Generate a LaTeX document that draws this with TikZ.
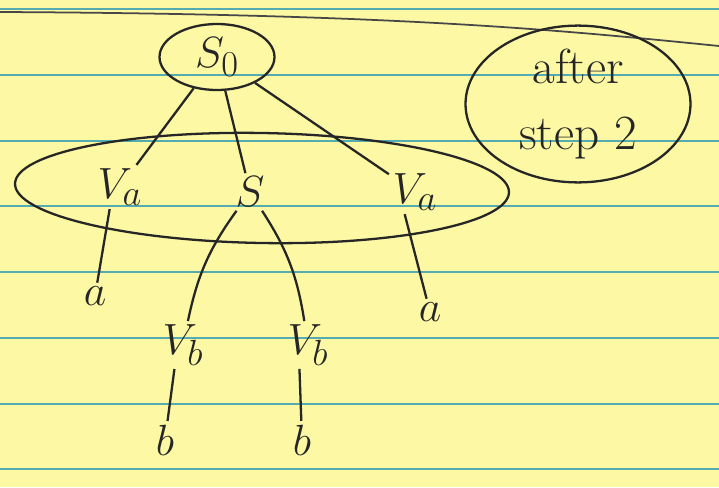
\documentclass[tikz,border=0pt]{standalone}
\usetikzlibrary{shapes.geometric}
\definecolor{paper}{RGB}{252,248,164}
\definecolor{rulecol}{RGB}{84,172,176}
\definecolor{ink}{RGB}{38,38,38}
\begin{document}
\begin{tikzpicture}[
  x=0.02cm, y=-0.02cm,
  every node/.style={text=ink, inner sep=2pt, font=\fontsize{32}{32}\selectfont},
  edge/.style={draw=ink, line width=1.3pt},
  ring/.style={draw=ink, line width=1.3pt, ellipse, inner sep=0pt}
]
\fill[paper] (0,0) rectangle (719,487);
\useasboundingbox (0,0) rectangle (719,487);
\foreach \y in {9,75,141,206,272,338,404,469}
  \draw[rulecol, line width=1.4pt] (0,\y) -- (719,\y);
\draw[ink!85, line width=1pt] (0,12) .. controls (400,14) and (560,30) .. (719,46);

\node[ring, minimum width=2.3cm, minimum height=1.32cm] (s0) at (217,57) {$S_0$};
\node[ring, align=center, minimum width=4.5cm, minimum height=2.95cm,
  font=\fontsize{28}{38}\selectfont] (note) at (578,104) {after\\ step 2};

\node (va1) at (120,187) {$V_a$};
\node (s) at (250,192) {$S$};
\node (va2) at (415,192) {$V_a$};
\draw[ink, line width=1.3pt, rotate around={-1:(262,188)}] (262,188) ellipse [x radius=247, y radius=55];

\node (a1) at (95,296) {$a$};
\node (a2) at (430,312) {$a$};
\node (vb1) at (183,345) {$V_b$};
\node (vb2) at (308,345) {$V_b$};
\node (b1) at (165,440) {$b$};
\node (b2) at (302,440) {$b$};

\draw[edge] (s0) -- (va1);
\draw[edge] (s0) -- (s);
\draw[edge] (s0) -- (va2);
\draw[edge] (s) to[bend right=12] (vb1);
\draw[edge] (s) to[bend left=12] (vb2);
\draw[edge] ([xshift=9pt]va1.south west) -- (a1);
\draw[edge] ([xshift=9pt]va2.south west) -- (a2);
\draw[edge] ([xshift=9pt]vb1.south west) -- (b1);
\draw[edge] ([xshift=9pt]vb2.south west) -- (b2);
\end{tikzpicture}
\end{document}
